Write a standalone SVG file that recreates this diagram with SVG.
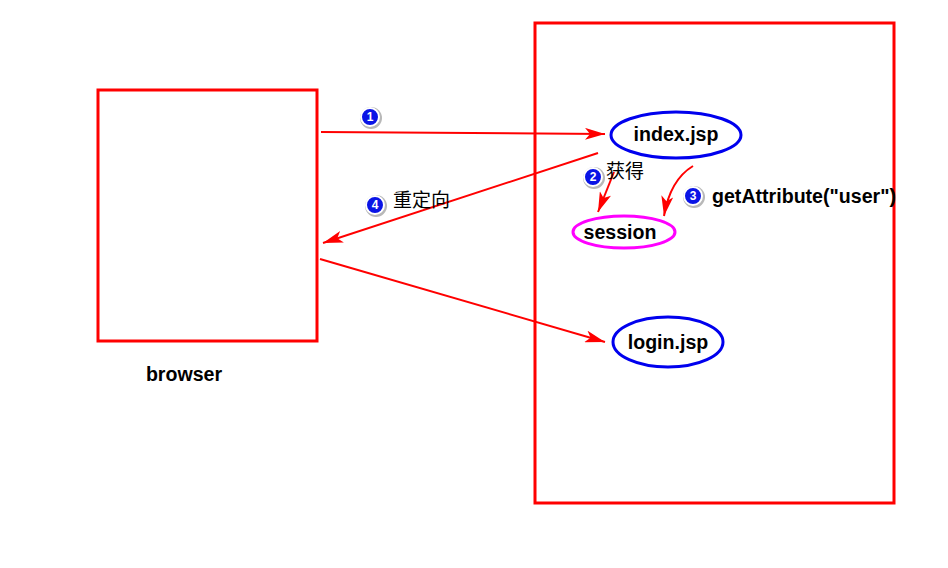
<svg xmlns="http://www.w3.org/2000/svg" width="948" height="568" viewBox="0 0 948 568">
<style>
.box{fill:none;stroke:#ff0000;stroke-width:3}
.node{fill:none;stroke-width:3}
.lbl{font-family:"Liberation Sans",Arial,sans-serif;font-weight:bold;font-size:19.6px;fill:#000}
.cjk{font-family:"Noto Sans CJK SC","Liberation Sans",sans-serif;font-size:19px;fill:#000}
.con{fill:none;stroke:#ff0000;stroke-width:2}
.badge circle.s{fill:#b8b8b8}
.badge circle.b{fill:#0a14e6;stroke:#fff;stroke-width:2}
.badge text{font-family:"Liberation Sans",Arial,sans-serif;font-weight:bold;font-size:12px;fill:#fff;text-anchor:middle}
</style>
<defs>
<marker id="ah" viewBox="0 0 20 12" refX="20" refY="6" markerWidth="20" markerHeight="12" markerUnits="userSpaceOnUse" orient="auto">
<path d="M0,0 L20,6 L0,12 L5,6 Z" fill="#ff0000"/>
</marker>
</defs>
<rect width="948" height="568" fill="#fff"/>
<g id="browser">
<rect class="box" x="98" y="90" width="219" height="251"/>
<text class="lbl" x="184" y="381" text-anchor="middle">browser</text>
</g>
<g id="server">
<rect class="box" x="535" y="23" width="359" height="480"/>
</g>
<g id="connectors">
<line class="con" x1="321" y1="132" x2="605" y2="134" marker-end="url(#ah)"/>
<line class="con" x1="598" y1="153" x2="323" y2="243" marker-end="url(#ah)"/>
<line class="con" x1="614" y1="172" x2="598" y2="212" marker-end="url(#ah)"/>
<path class="con" d="M693,166 Q670,180 664,216" marker-end="url(#ah)"/>
<line class="con" x1="320" y1="259" x2="605" y2="342" marker-end="url(#ah)"/>
</g>
<g id="index">
<ellipse class="node" cx="676" cy="135" rx="65" ry="23" stroke="#0000ee"/>
<text class="lbl" x="676" y="141" text-anchor="middle">index.jsp</text>
</g>
<g id="session">
<ellipse class="node" cx="624" cy="232" rx="51" ry="16" stroke="#ff00ff"/>
<text class="lbl" x="620" y="239" text-anchor="middle">session</text>
</g>
<g id="login">
<ellipse class="node" cx="668" cy="342" rx="55" ry="25" stroke="#0000ee"/>
<text class="lbl" x="668" y="349" text-anchor="middle">login.jsp</text>
</g>
<g id="labels">
<text class="cjk" x="606" y="178">获得</text>
<text class="cjk" x="393" y="207">重定向</text>
<text class="lbl" x="712" y="203">getAttribute("user")</text>
</g>
<g id="badges">
<g class="badge"><circle class="s" cx="371" cy="118" r="11"/><circle class="b" cx="370" cy="117" r="9"/><text x="370" y="121">1</text></g>
<g class="badge"><circle class="s" cx="594" cy="178" r="11"/><circle class="b" cx="593" cy="177" r="9"/><text x="593" y="181">2</text></g>
<g class="badge"><circle class="s" cx="694" cy="197" r="11"/><circle class="b" cx="693" cy="196" r="9"/><text x="693" y="200">3</text></g>
<g class="badge"><circle class="s" cx="376" cy="206" r="11"/><circle class="b" cx="375" cy="205" r="9"/><text x="375" y="209">4</text></g>
</g>
</svg>
